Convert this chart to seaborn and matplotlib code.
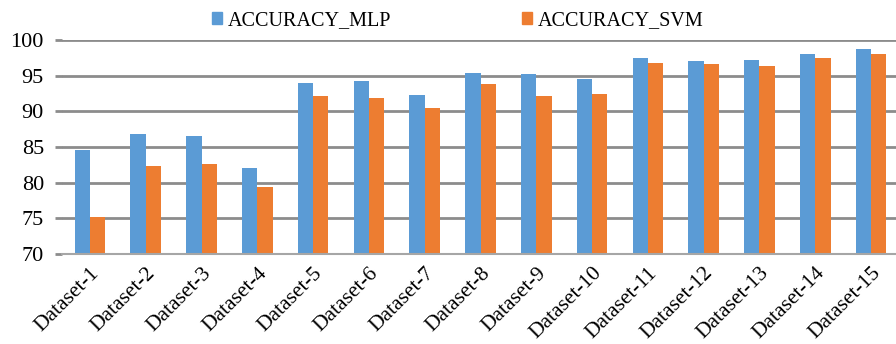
import pandas as pd
import matplotlib
matplotlib.use("Agg")
import matplotlib.pyplot as plt
import seaborn as sns

### DATA

datasets = [f"Dataset-{i}" for i in range(1, 16)]
acc_mlp = [84.6, 86.8, 86.5, 82.1, 94.0, 94.3, 92.3, 95.4, 95.2, 94.6, 97.5, 97.0, 97.2, 98.0, 98.7]
acc_svm = [75.2, 82.4, 82.6, 79.4, 92.1, 91.8, 90.5, 93.9, 92.1, 92.4, 96.8, 96.6, 96.3, 97.5, 98.1]
series = ["ACCURACY_MLP", "ACCURACY_SVM"]
yticks = [70, 75, 80, 85, 90, 95, 100]

df = pd.DataFrame({
    "Dataset": datasets * 2,
    "Series": [series[0]] * len(datasets) + [series[1]] * len(datasets),
    "Accuracy": acc_mlp + acc_svm,
})

### PLOT

sns.set_style("white")
plt.rcParams["font.family"] = ["Liberation Serif", "DejaVu Serif"]
plt.rcParams["text.color"] = "black"
plt.rcParams["xtick.labelcolor"] = "black"
plt.rcParams["ytick.labelcolor"] = "black"

fig = plt.figure(figsize=(8.96, 3.44), dpi=100)
ax = fig.add_axes([62 / 896, 1 - 254 / 344, 837 / 896, 214 / 344])

palette = {series[0]: "#5b9bd5", series[1]: "#ed7d31"}
sns.barplot(data=df, x="Dataset", y="Accuracy", hue="Series", palette=palette,
            width=0.55, gap=0, dodge=True, ax=ax, edgecolor="none", saturation=1)

ax.set_ylim(70, 100)
ax.set_yticks(yticks)
ax.set_xlim(-0.5, len(datasets) - 0.5)
ax.set_xlabel("")
ax.set_ylabel("")
ax.yaxis.grid(True, color="#8c8c8c", linewidth=2)
ax.set_axisbelow(True)

for side in ["left", "right", "top"]:
    ax.spines[side].set_visible(False)
ax.spines["bottom"].set_color("#a6a6a6")
ax.spines["bottom"].set_linewidth(1.5)

ax.set_xticks([i - 0.5 for i in range(len(datasets) + 1)], minor=True)
ax.tick_params(axis="x", which="minor", length=6, color="#a6a6a6", width=1)
ax.tick_params(axis="x", which="major", length=0, labelsize=15.5, pad=7, labelcolor="black")
ax.tick_params(axis="y", length=5, color="#8c8c8c", width=2, labelsize=16, pad=8,
               left=True, labelcolor="black")
ax.set_xticks(range(len(datasets)))
ax.set_xticklabels(datasets, rotation=45, ha="right", rotation_mode="anchor")

ax.legend_.remove()
handles = [plt.Rectangle((0, 0), 1, 1, color=palette[s]) for s in series]
fig.legend(handles, series, loc="center", bbox_to_anchor=(0.511, 0.94), ncol=2,
           frameon=False, fontsize=14.5, handlelength=0.5, handleheight=0.5,
           handletextpad=0.3, columnspacing=6.5, labelcolor="black")

fig.savefig("out.png", dpi=100)
